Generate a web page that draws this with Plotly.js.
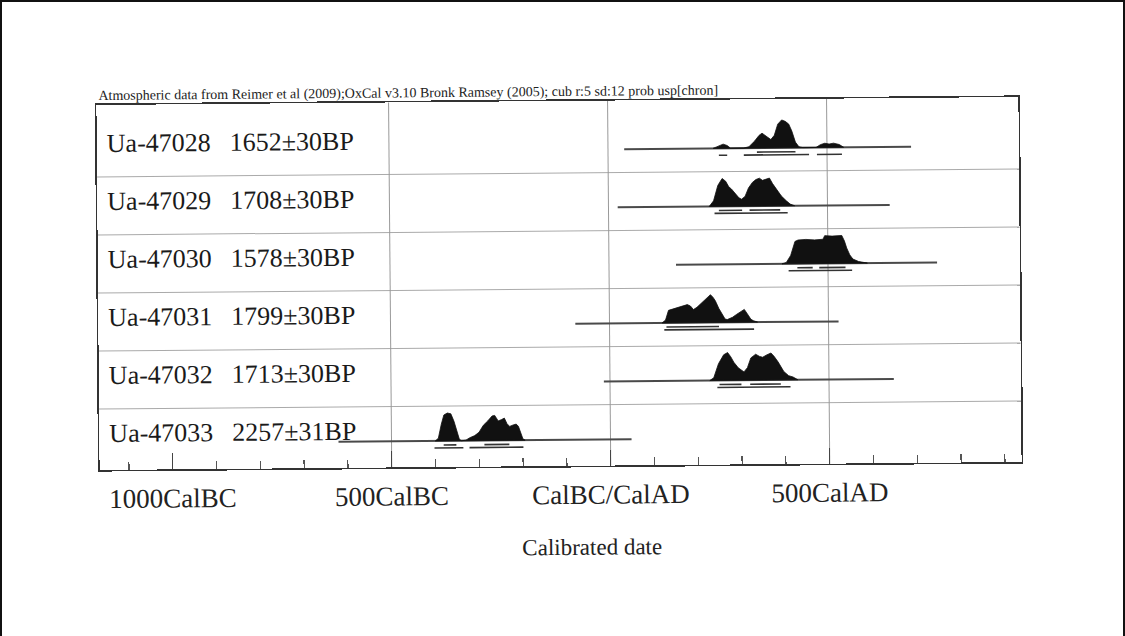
<!DOCTYPE html>
<html><head><meta charset="utf-8">
<script src="https://cdn.plot.ly/plotly-3.0.1.min.js"></script>
<style>
html,body{margin:0;padding:0;background:#fff;overflow:hidden}
#page{position:absolute;left:0;top:0;width:1125px;height:636px;box-sizing:border-box;border-top:2px solid #111;border-left:2px solid #111;border-right:2px solid #111;}
#chart{position:absolute;left:0;top:0;width:1125px;height:636px;transform:rotate(-0.5deg);transform-origin:559px 284px;}
</style></head><body><div id="page"></div><div id="chart"></div>
<script>
// ---- data (top row first) ----
const sampleIds = ['Ua-47028','Ua-47029','Ua-47030','Ua-47031','Ua-47032','Ua-47033'];
const bpDates = ['1652±30BP','1708±30BP','1578±30BP','1799±30BP','1713±30BP','2257±31BP'];
const lineStart = [37, 21, 153, -78, -14, -621];
const lineEnd = [692, 642, 749, 523, 648, 48];

const years1 = [240,255,263,272,280,310,322,335,345,352,360,372,380,388,397,405,413,420,428,436,445,475,485,495,505,515,528,538];
const prob1  = [0,0.1,0.15,0.1,0,0,0.05,0.25,0.45,0.53,0.45,0.3,0.45,0.85,1.0,0.95,0.85,0.6,0.2,0.03,0,0,0.1,0.15,0.12,0.15,0.1,0];
const years2 = [230,240,250,260,268,275,281,290,298,304,312,320,329,337,345,352,360,368,375,386,395,406,415,425];
const prob2  = [0,0.2,0.75,1.0,0.9,0.7,0.62,0.45,0.3,0.25,0.35,0.65,0.85,0.95,1.0,0.92,0.95,1.0,0.8,0.55,0.35,0.18,0.06,0];
const years3 = [395,405,415,425,432,450,470,489,493,510,532,538,543,550,557,570,590];
const prob3  = [0,0.05,0.3,0.8,0.85,0.87,0.85,0.87,1.0,0.98,1.0,0.8,0.55,0.3,0.15,0.06,0];
const years4 = [120,128,135,145,155,165,178,185,192,200,212,222,231,237,242,250,258,264,269,281,290,299,308,317,323,329,338];
const prob4  = [0,0.1,0.45,0.5,0.55,0.58,0.65,0.6,0.47,0.55,0.72,0.85,1.0,0.9,0.78,0.5,0.25,0.12,0.1,0.18,0.28,0.36,0.46,0.25,0.1,0.05,0];
const years5 = [228,237,248,260,269,276,283,293,306,314,322,333,342,349,358,368,375,384,397,408,418,429];
const prob5  = [0,0.1,0.6,0.92,1.0,0.85,0.65,0.45,0.3,0.45,0.8,0.93,0.85,0.82,0.9,0.97,0.85,0.65,0.3,0.15,0.1,0];
const years6 = [-400,-393,-386,-380,-372,-364,-357,-351,-345,-340,-330,-322,-310,-300,-290,-280,-270,-264,-256,-248,-242,-236,-230,-222,-215,-210,-205,-200,-195];
const prob6  = [0,0.1,0.6,0.93,1.0,0.97,0.7,0.35,0.05,0,0.02,0.1,0.18,0.3,0.55,0.7,0.88,0.9,0.7,0.75,0.8,0.6,0.5,0.55,0.58,0.5,0.25,0.05,0];

const range68_1 = [[340,428]];
const range95_1 = [[253,272],[310,459],[477,534]];
const range68_2 = [[252,305],[322,392]];
const range95_2 = [[242,409]];
const range68_3 = [[430,465],[480,540]];
const range95_3 = [[410,555]];
const range68_4 = [[130,250]];
const range95_4 = [[125,330]];
const range68_5 = [[250,300],[320,390]];
const range95_5 = [[245,412]];
const range68_6 = [[-381,-352],[-288,-231]];
const range95_6 = [[-402,-336],[-322,-199]];

const tickYears = [-1000,-500,0,500];
const tickLabels = ['1000CalBC','500CalBC','CalBC/CalAD','500CalAD'];
const gridYears = [-500,0,500];
const titleText = 'Atmospheric data from Reimer et al (2009);OxCal v3.10 Bronk Ramsey (2005); cub r:5 sd:12 prob usp[chron]';
const axisTitle = 'Calibrated date';

// ---- build ----
const allYears = [years1,years2,years3,years4,years5,years6];
const allProb = [prob1,prob2,prob3,prob4,prob5,prob6];
const all68 = [range68_1,range68_2,range68_3,range68_4,range68_5,range68_6];
const all95 = [range95_1,range95_2,range95_3,range95_4,range95_5,range95_6];
const SERIF = 'Liberation Serif, Times New Roman, serif';
const H = 0.48, BASE = 0.4;
const traces = [];
const annotations = [];
const shapes = [];
for (let i = 0; i < 6; i++) {
  const base = (5 - i) + BASE;
  traces.push({x:[lineStart[i], lineEnd[i]], y:[base, base], mode:'lines',
    line:{color:'#4a4a4a', width:2}, hoverinfo:'skip', showlegend:false});
  const xs = allYears[i].concat([allYears[i][allYears[i].length-1], allYears[i][0]]);
  const ys = allProb[i].map(p => base + p*H).concat([base, base]);
  traces.push({x:xs, y:ys, mode:'lines', fill:'toself', fillcolor:'#111',
    line:{color:'#111', width:0.8}, hoverinfo:'skip', showlegend:false});
  const seg = (arr, off) => {
    const x = [], y = [];
    arr.forEach(r => { x.push(r[0], r[1], null); y.push(base+off, base+off, null); });
    return {x, y};
  };
  const s68 = seg(all68[i], -0.07), s95 = seg(all95[i], -0.12);
  traces.push({x:s68.x, y:s68.y, mode:'lines', line:{color:'#333', width:1.6}, hoverinfo:'skip', showlegend:false});
  traces.push({x:s95.x, y:s95.y, mode:'lines', line:{color:'#333', width:1.6}, hoverinfo:'skip', showlegend:false});
  annotations.push({xref:'paper', yref:'y', x:0.009, y:(5-i)+0.58, xanchor:'left', yanchor:'middle',
    text:sampleIds[i], showarrow:false, font:{family:SERIF, size:26, color:'#1a1a1a'}});
  annotations.push({xref:'paper', yref:'y', x:0.142, y:(5-i)+0.58, xanchor:'left', yanchor:'middle',
    text:bpDates[i], showarrow:false, font:{family:SERIF, size:26, color:'#1a1a1a'}});
  if (i > 0) shapes.push({type:'line', xref:'paper', yref:'y', x0:0, x1:1, y0:6-i, y1:6-i,
    line:{color:'#aaa', width:1}, layer:'below'});
}
gridYears.forEach(g => shapes.push({type:'line', xref:'x', yref:'paper', x0:g, x1:g, y0:0, y1:1,
  line:{color:'#999', width:1}, layer:'below'}));
annotations.push({xref:'paper', yref:'paper', x:0, y:1, xanchor:'left', yanchor:'bottom', yshift:-1,
  text:titleText, showarrow:false, font:{family:SERIF, size:14, color:'#222'}});
annotations.push({xref:'paper', yref:'paper', x:0.534, y:-0.222, xanchor:'center', yanchor:'middle',
  text:axisTitle, showarrow:false, font:{family:SERIF, size:23, color:'#222'}});

const layout = {
  width:1125, height:636, paper_bgcolor:'rgba(0,0,0,0)', plot_bgcolor:'rgba(0,0,0,0)',
  margin:{l:98, r:105, t:101, b:170}, showlegend:false,
  xaxis:{range:[-1167, 938], showline:true, mirror:true, linecolor:'#333', linewidth:1.6,
    ticks:'inside', ticklen:16, tickwidth:1.3, tickcolor:'#444',
    tickvals:tickYears, ticktext:tickLabels, ticklabelstandoff:4,
    tickfont:{family:SERIF, size:27, color:'#222'},
    minor:{dtick:100, tick0:0, ticks:'inside', ticklen:8, tickwidth:1.2, tickcolor:'#555', showgrid:false},
    showgrid:false, zeroline:false, fixedrange:true},
  yaxis:{range:[-0.05, 6.24], showline:true, mirror:true, linecolor:'#333', linewidth:1.6,
    ticks:'', showticklabels:false, showgrid:false, zeroline:false, fixedrange:true},
  annotations, shapes
};
Plotly.newPlot('chart', traces, layout, {staticPlot:true, displayModeBar:false});
</script></body></html>
